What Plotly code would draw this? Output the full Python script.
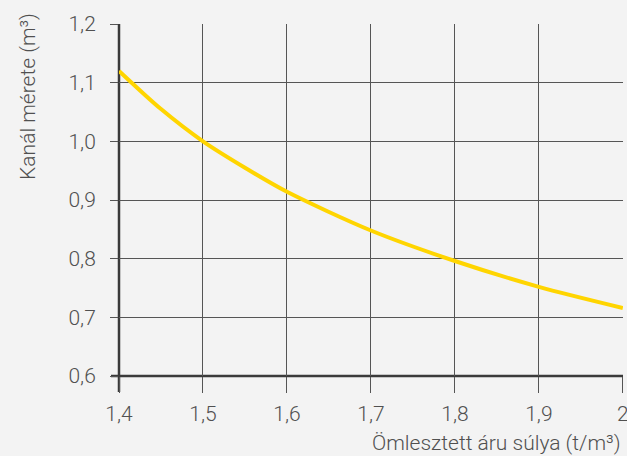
import plotly.graph_objects as go

# Data
density = [1.4, 1.45, 1.5, 1.55, 1.6, 1.7, 1.8, 1.9, 2.0]
bucket_size = [1.12, 1.055, 1.0, 0.955, 0.914, 0.848, 0.796, 0.752, 0.716]

x_ticks = [1.4, 1.5, 1.6, 1.7, 1.8, 1.9, 2.0]
x_ticktext = ["1,4", "1,5", "1,6", "1,7", "1,8", "1,9", "2"]
y_ticks = [0.6, 0.7, 0.8, 0.9, 1.0, 1.1, 1.2]
y_ticktext = ["0,6", "0,7", "0,8", "0,9", "1,0", "1,1", "1,2"]

x_title = "Ömlesztett áru súlya (t/m³)"
y_title = "Kanál mérete (m³)"

FONT = "Roboto"
TXT = "#505050"
GRID = "#555555"
AXIS = "#3a3a3a"

fig = go.Figure()
fig.add_trace(go.Scatter(
    x=density, y=bucket_size, mode="lines",
    line=dict(color="#FFD500", width=4, shape="spline", smoothing=0.8),
    hoverinfo="skip", showlegend=False,
))

fig.update_layout(
    width=627, height=456,
    margin=dict(l=119, r=4, t=24, b=80, autoexpand=False),
    paper_bgcolor="#f3f3f3", plot_bgcolor="#f3f3f3",
    font=dict(family=FONT, color=TXT, size=21, weight=300),
    xaxis=dict(
        range=[1.4, 2.0002], tickvals=x_ticks, ticktext=x_ticktext,
        showgrid=True, gridcolor=GRID, gridwidth=1,
        ticks="outside", ticklen=16, tickwidth=1, tickcolor=GRID,
        zeroline=False, showline=False, automargin=False,
        tickfont=dict(family=FONT, size=21, color=TXT, weight=300),
        ticklabelstandoff=3, ticklabeloverflow="allow",
    ),
    yaxis=dict(
        range=[0.6, 1.2], tickvals=y_ticks, ticktext=y_ticktext,
        showgrid=True, gridcolor=GRID, gridwidth=1,
        ticks="outside", ticklen=8, tickwidth=1, tickcolor=GRID,
        zeroline=False, showline=False, automargin=False,
        tickfont=dict(family=FONT, size=21, color=TXT, weight=300),
        ticklabelstandoff=10, ticklabeloverflow="allow",
    ),
    shapes=[
        dict(type="line", xref="paper", yref="paper", x0=0, x1=0,
             y0=-16 / 352, y1=1, line=dict(color=AXIS, width=2.5), layer="between"),
        dict(type="line", xref="paper", yref="paper", x0=-8 / 504, x1=1,
             y0=0, y1=0, line=dict(color=AXIS, width=2.5), layer="between"),
    ],
    annotations=[
        dict(text=x_title, xref="paper", yref="paper", x=1, y=-0.19,
             xanchor="right", yanchor="middle", showarrow=False,
             font=dict(family=FONT, size=21, color=TXT, weight=300)),
        dict(text=y_title, xref="paper", yref="paper", x=-0.181, y=0.795,
             xanchor="center", yanchor="middle", textangle=-90, showarrow=False,
             font=dict(family=FONT, size=21, color=TXT, weight=300)),
    ],
)

fig.write_html(
    "out.html",
    config={"displayModeBar": False, "staticPlot": True},
    post_script="document.body.style.margin='0';document.body.style.padding='0';"
                "document.body.style.overflow='hidden';",
)
